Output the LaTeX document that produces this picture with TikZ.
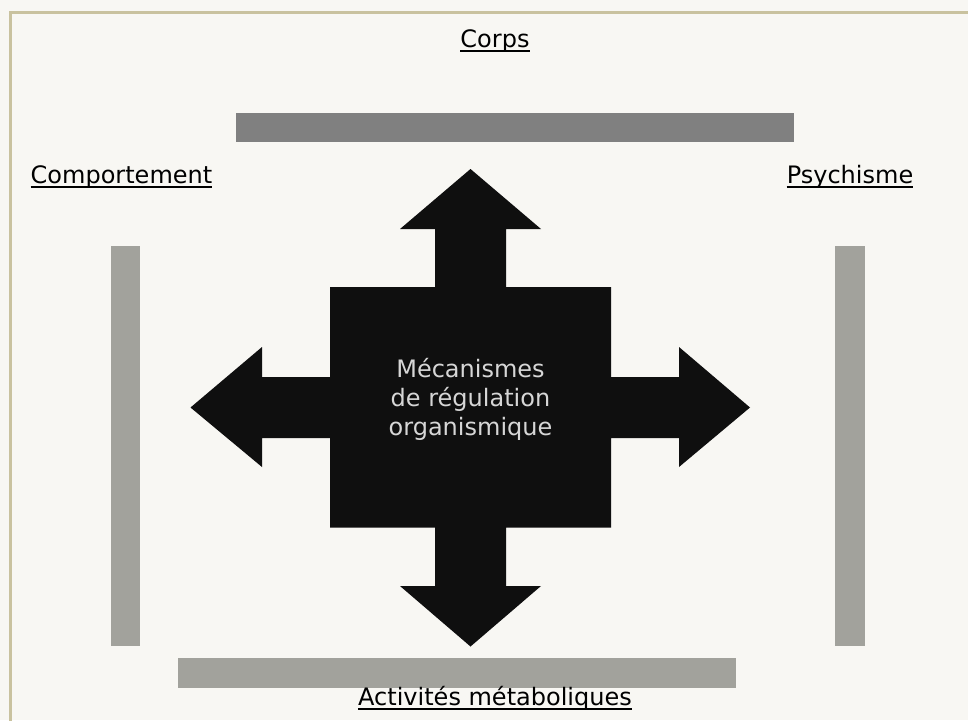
\documentclass[tikz,border=0pt]{standalone}
\usepackage{fontspec}
\setmainfont{DejaVu Sans}
\definecolor{bgcol}{HTML}{F8F7F3}
\definecolor{framecol}{HTML}{C9C29F}
\definecolor{darkbar}{HTML}{808080}
\definecolor{lightbar}{HTML}{A2A29C}
\definecolor{crosscol}{HTML}{0F0F0F}
\definecolor{centertext}{HTML}{D6D6D6}
\tikzset{
  label/.style={inner sep=0pt, anchor=base, text=black, font=\fontsize{24}{29}\selectfont},
  uline/.style={line width=2pt, black},
  bar/.style={fill=#1, draw=none},
}
\begin{document}
\begin{tikzpicture}[x=1pt,y=-1pt]
\useasboundingbox (0,0) rectangle (968,720);
\clip (0,0) rectangle (968,720);
\fill[bgcol] (0,0) rectangle (968,720);
\draw[framecol, line width=3pt] (10.5,12) rectangle (990,740);
% bars
\fill[bar=darkbar] (236,113) rectangle (794,142);
\fill[bar=lightbar] (111,246) rectangle (140,646);
\fill[bar=lightbar] (835,246) rectangle (865,646);
\fill[bar=lightbar] (178,658) rectangle (736,688);
% four-way arrow
\fill[crosscol] (470.5,169) -- (541,229) -- (506,229) -- (506,287) -- (611,287) -- (611,377)
 -- (679,377) -- (679,347) -- (750,407.5) -- (679,467) -- (679,438) -- (611,438)
 -- (611,527.5) -- (506,527.5) -- (506,586) -- (541,586) -- (470.5,646.5) -- (400,586)
 -- (435,586) -- (435,527.5) -- (330,527.5) -- (330,438) -- (262,438) -- (262,467)
 -- (190.5,407.5) -- (262,347) -- (262,377) -- (330,377) -- (330,287) -- (435,287)
 -- (435,229) -- (400,229) -- cycle;
\node[inner sep=0pt, align=center, text=centertext, font=\fontsize{24}{29}\selectfont] (center) at (470.5,399)
  {Mécanismes\\de régulation\\organismique};
% labels
\node[label] (corps) at (495,47.5) {Corps};
\node[label] (comp) at (121.5,183.5) {Comportement};
\node[label] (psy) at (850,183.5) {Psychisme};
\node[label] (act) at (495,705.5) {Activités métaboliques};
\foreach \n in {corps,comp,psy,act}{
  \draw[uline] ([yshift=-3pt]\n.base west) -- ([yshift=-3pt]\n.base east);
}
\end{tikzpicture}
\end{document}
